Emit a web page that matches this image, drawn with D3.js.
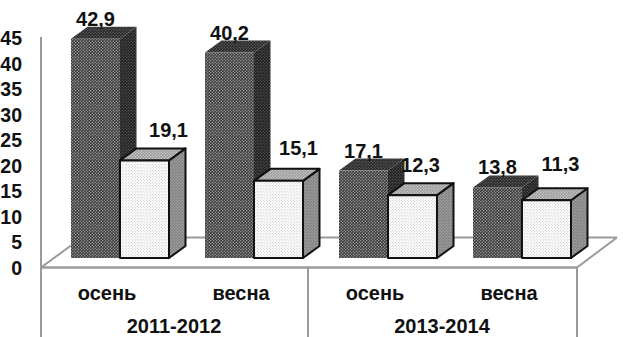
<!DOCTYPE html>
<html><head><meta charset="utf-8">
<script src="https://cdn.jsdelivr.net/npm/d3@7"></script>
<style>html,body{margin:0;padding:0;background:#fff}svg{display:block}
text{font-family:"Liberation Sans",Arial,sans-serif;font-weight:bold;fill:#111}</style>
</head><body><svg id="c" width="623" height="337"></svg>
<script>
const seasons = ["осень","весна","осень","весна"];
const years = ["2011-2012","2013-2014"];
const darkValues = [42.9,40.2,17.1,13.8];
const lightValues = [19.1,15.1,12.3,11.3];
const darkLabels = ["42,9","40,2","17,1","13,8"];
const lightLabels = ["19,1","15,1","12,3","11,3"];
const yTicks = [0,5,10,15,20,25,30,35,40,45];

const W=623,H=337;
const svg=d3.select("#c");
const baseY=258, unit=5.11, floorDrop=9.5, dx=16.5, dy=-12;
const y=d3.scaleLinear().domain([0,45]).range([baseY,baseY-45*unit]);
const x=d3.scaleBand().domain(d3.range(4)).range([41,577]).paddingInner(0).paddingOuter(0);
const barW=49, firstOff=30;
const lightNudge=[{x:24,y:-23},{x:20,y:-26},{x:8,y:-23},{x:14,y:-29}];
const gridC="#9a9a9a";

const defs=svg.append("defs");
function pat(id,bg,fg,size,r){
  const p=defs.append("pattern").attr("id",id).attr("patternUnits","userSpaceOnUse").attr("width",size).attr("height",size);
  p.append("rect").attr("width",size).attr("height",size).attr("fill",bg);
  p.append("circle").attr("cx",size/4).attr("cy",size/4).attr("r",r).attr("fill",fg);
  p.append("circle").attr("cx",3*size/4).attr("cy",3*size/4).attr("r",r).attr("fill",fg);
}
pat("darkFront","#3a3a3a","#a8a8a8",3,.7);
pat("darkSide","#222222","#6e6e6e",3,.6);
pat("darkTop","#2c2c2c","#757575",3,.6);
pat("lightFront","#ffffff","#b0b0b0",3,.5);
pat("lightSide","#848484","#b8b8b8",3,.6);
pat("lightTop","#9c9c9c","#d4d4d4",3,.65);

// floor and walls
const axisY=y(0)+floorDrop;
const line=(a,b,c,d,w=2)=>svg.append("line").attr("x1",a).attr("y1",b).attr("x2",c).attr("y2",d).attr("stroke",gridC).attr("stroke-width",w);
line(41,37,41,H);
line(41,axisY,577,axisY,2.4);
line(308,axisY,308,H);
line(577,axisY,577,H);
line(41,axisY,71,axisY-22);
line(577,axisY,617,axisY-30);
line(71,axisY-30,617,axisY-30);

// bars
function bar(g,x0,v,front,side,top,stroke){
  const t=y(v),b=y(0),r=x0+barW;
  const attrs=s=>s.attr("stroke",stroke||"none").attr("stroke-width",stroke?2:0).attr("stroke-linejoin","round");
  attrs(g.append("path").attr("d",d3.line()([[r,t],[r+dx,t+dy],[r+dx,b+dy],[r,b]])+"Z").attr("fill",`url(#${side})`));
  attrs(g.append("path").attr("d",d3.line()([[x0,t],[x0+dx,t+dy],[r+dx,t+dy],[r,t]])+"Z").attr("fill",`url(#${top})`));
  attrs(g.append("rect").attr("x",x0).attr("y",t).attr("width",barW).attr("height",b-t).attr("fill",`url(#${front})`));
}
const marks=svg.append("g");
seasons.forEach((s,i)=>{
  const x0=x(i)+firstOff;
  bar(marks.append("g"),x0,darkValues[i],"darkFront","darkSide","darkTop",null);
  bar(marks.append("g"),x0+barW,lightValues[i],"lightFront","lightSide","lightTop","#111");
});

// value labels
const fs=20;
seasons.forEach((s,i)=>{
  const x0=x(i)+firstOff;
  svg.append("text").attr("x",x0+barW/2).attr("y",y(darkValues[i])-13).attr("text-anchor","middle").attr("font-size",fs).text(darkLabels[i]);
  svg.append("text").attr("x",x0+barW*1.5+lightNudge[i].x).attr("y",y(lightValues[i])+lightNudge[i].y).attr("text-anchor","middle").attr("font-size",fs).text(lightLabels[i]);
});

// y labels
const yg=svg.append("g").attr("transform",`translate(22,${floorDrop})`);
const ax=d3.axisLeft(y).tickValues(yTicks).tickSize(0).tickPadding(0);
yg.call(ax);
yg.select(".domain").remove();
yg.selectAll("text").attr("font-size",19.5).attr("font-family",null).style("font-family",'"Liberation Sans",Arial,sans-serif').attr("dy","0.36em");

// category labels
seasons.forEach((s,i)=>{
  svg.append("text").attr("x",x(i)+x.bandwidth()/2-1).attr("y",299.5).attr("text-anchor","middle").attr("font-size",fs).text(s);
});
years.forEach((s,i)=>{
  svg.append("text").attr("x",(x(i*2)+x(i*2+1)+x.bandwidth())/2-1).attr("y",332.8).attr("text-anchor","middle").attr("font-size",fs).text(s);
});
</script></body></html>
